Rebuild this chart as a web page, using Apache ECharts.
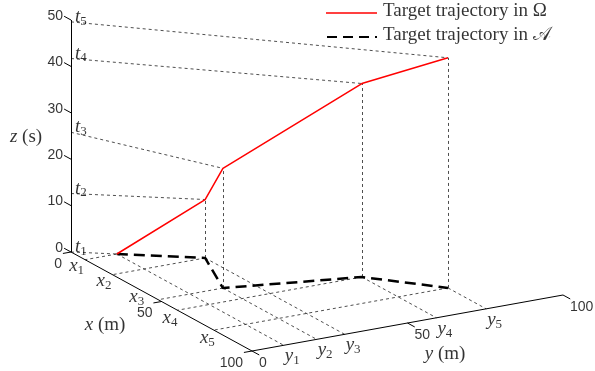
<!DOCTYPE html>
<html>
<head>
<meta charset="utf-8">
<script src="https://cdn.jsdelivr.net/npm/echarts@6/dist/echarts.min.js"></script>
<style>html,body{margin:0;padding:0;background:#fff;}#c{width:595px;height:371px;}</style>
</head>
<body>
<div id="c"></div>
<script>
// ---- data (3D trajectory points) ----
const X_POS = [7.8, 22.9, 48.2, 58.8, 78.9];     // x (m)
const Y_POS = [10.2, 29.8, 20.8, 59.3, 75.3];    // y (m)
const T_VAL = [0, 12.6, 25.8, 41.7, 49.6];       // z = time (s)
const Z_TICKS = [0, 10, 20, 30, 40, 50];
const X_TICKS = [0, 50, 100];
const Y_TICKS = [0, 50, 100];
const X_MAX = 100, Y_MAX = 100, Z_MAX = 50;
const LEGEND_NAMES = ['Target trajectory in \u03A9', 'Target trajectory in \uD835\uDC9C'];

// ---- view projection (MATLAB-like 3D view) ----
const O = [71, 252], EX = [1.81, 0.99], EY = [3.11, -0.56], EZ = [0, -4.64];
function proj(x, y, z) {
  return [O[0] + EX[0] * x + EY[0] * y + EZ[0] * z, O[1] + EX[1] * x + EY[1] * y + EZ[1] * z];
}
const serif = "Liberation Serif";
const sans = "Liberation Sans";

// axes lines
const axisSegs = [
  [proj(0, 0, 0), proj(X_MAX, 0, 0)],
  [proj(X_MAX, 0, 0), proj(X_MAX, Y_MAX, 0)],
  [proj(0, 0, 0), proj(0, 0, Z_MAX)]
];
Z_TICKS.forEach(z => axisSegs.push([proj(0, 0, z), proj(-3.8, 0, z)]));
X_TICKS.forEach(x => axisSegs.push([proj(x, 0, 0), proj(x, -2.6, 0)]));
Y_TICKS.forEach(y => axisSegs.push([proj(X_MAX, y, 0), proj(X_MAX + 4, y, 0)]));

// guide dashed lines
const guideSegs = [];
for (let i = 0; i < X_POS.length; i++) {
  const x = X_POS[i], y = Y_POS[i], t = T_VAL[i];
  guideSegs.push([proj(0, 0, t), proj(x, y, t)]);
  if (t > 0) guideSegs.push([proj(x, y, 0), proj(x, y, t)]);
  guideSegs.push([proj(x, y, 0), proj(x, 0, 0)]);
  guideSegs.push([proj(x, y, 0), proj(X_MAX, y, 0)]);
}
const groundPath = X_POS.map((x, i) => proj(x, Y_POS[i], 0));
const spacePath = X_POS.map((x, i) => proj(x, Y_POS[i], T_VAL[i]));

// ---- text labels (scatter series with invisible symbols) ----
const labels = [];
function lab(text, x, y, align) {
  labels.push({ value: [x, y], label: { formatter: text, align: align } });
}
const rich = {
  it: { fontFamily: serif, fontStyle: 'italic', fontSize: 19, color: '#000' },
  sb: { fontFamily: serif, fontSize: 13, color: '#000', padding: [9, 0, 0, 0] },
  rm: { fontFamily: serif, fontSize: 19, color: '#000' },
  tk: { fontFamily: sans, fontSize: 14, color: '#000' }
};
Z_TICKS.forEach(z => { const p = proj(0, 0, z); lab('{tk|' + z + '}', 63, p[1] - 4, 'right'); });
X_TICKS.forEach(x => { const p = proj(x, 0, 0); lab('{tk|' + x + '}', p[0] - 9, p[1] + 12, 'right'); });
Y_TICKS.forEach(y => { const p = proj(X_MAX, y, 0); lab('{tk|' + y + '}', p[0] + 7, p[1] + 12, 'left'); });
const xSorted = X_POS.slice().sort((a, b) => a - b);
const ySorted = Y_POS.slice().sort((a, b) => a - b);
const tSorted = T_VAL.slice().sort((a, b) => a - b);
const xShift = [[-1, 6], [-1, 6], [-14, -3], [0, 8], [1, 8]];
xSorted.forEach((x, i) => { const p = proj(x, 0, 0); lab('{it|x}{sb|' + (i + 1) + '}', p[0] + xShift[i][0], p[1] + xShift[i][1], 'right'); });
ySorted.forEach((y, i) => { const p = proj(X_MAX, y, 0); lab('{it|y}{sb|' + (i + 1) + '}', p[0] + 1, p[1] + 11, 'left'); });
tSorted.forEach((t, i) => { const p = proj(0, 0, t); lab('{it|t}{sb|' + (i + 1) + '}', 75, p[1] - 5, 'left'); });
lab('{it|z}{rm| (s)}', 26, 137, 'center');
lab('{it|x}{rm| (m)}', 105, 325, 'center');
lab('{it|y}{rm| (m)}', 445, 354, 'center');
lab('{rm|' + LEGEND_NAMES[0] + '}', 383, 11, 'left');
lab('{rm|' + LEGEND_NAMES[1] + '}', 383, 35, 'left');

// legend keys
const g = [
  { type: 'line', shape: { x1: 326, y1: 13, x2: 377, y2: 13 }, style: { stroke: '#ff0000', lineWidth: 1.5 }, z: 10 },
  { type: 'line', shape: { x1: 327, y1: 37, x2: 377, y2: 37 }, style: { stroke: '#000', lineWidth: 2.2, lineDash: [10, 6] }, z: 10 }
];

const chart = echarts.init(document.getElementById('c'), null, { renderer: 'canvas', width: 595, height: 371 });
chart.setOption({
  animation: false,
  backgroundColor: '#fff',
  grid: { left: 0, top: 0, width: 595, height: 371 },
  xAxis: { type: 'value', min: 0, max: 595, show: false },
  yAxis: { type: 'value', min: 0, max: 371, inverse: true, show: false },
  series: [
    { type: 'lines', coordinateSystem: 'cartesian2d', silent: true, z: 2,
      lineStyle: { color: '#000', width: 1, opacity: 1 },
      data: axisSegs.map(s => ({ coords: s })) },
    { type: 'lines', coordinateSystem: 'cartesian2d', silent: true, z: 1,
      lineStyle: { color: '#222', width: 0.8, type: [3, 3], opacity: 1 },
      data: guideSegs.map(s => ({ coords: s })) },
    { name: LEGEND_NAMES[1], type: 'line', data: groundPath, symbol: 'none', silent: true, z: 3,
      lineStyle: { color: '#000', width: 2.5, type: [11, 6] } },
    { name: LEGEND_NAMES[0], type: 'line', data: spacePath, symbol: 'none', silent: true, z: 4,
      lineStyle: { color: '#ff0000', width: 1.5 } },
    { type: 'scatter', silent: true, z: 10, symbol: 'circle', symbolSize: 0,
      label: { show: true, position: 'inside', verticalAlign: 'middle', color: '#000', rich: rich },
      labelLayout: { hideOverlap: false },
      data: labels }
  ],
  graphic: g
});
</script>
</body>
</html>
